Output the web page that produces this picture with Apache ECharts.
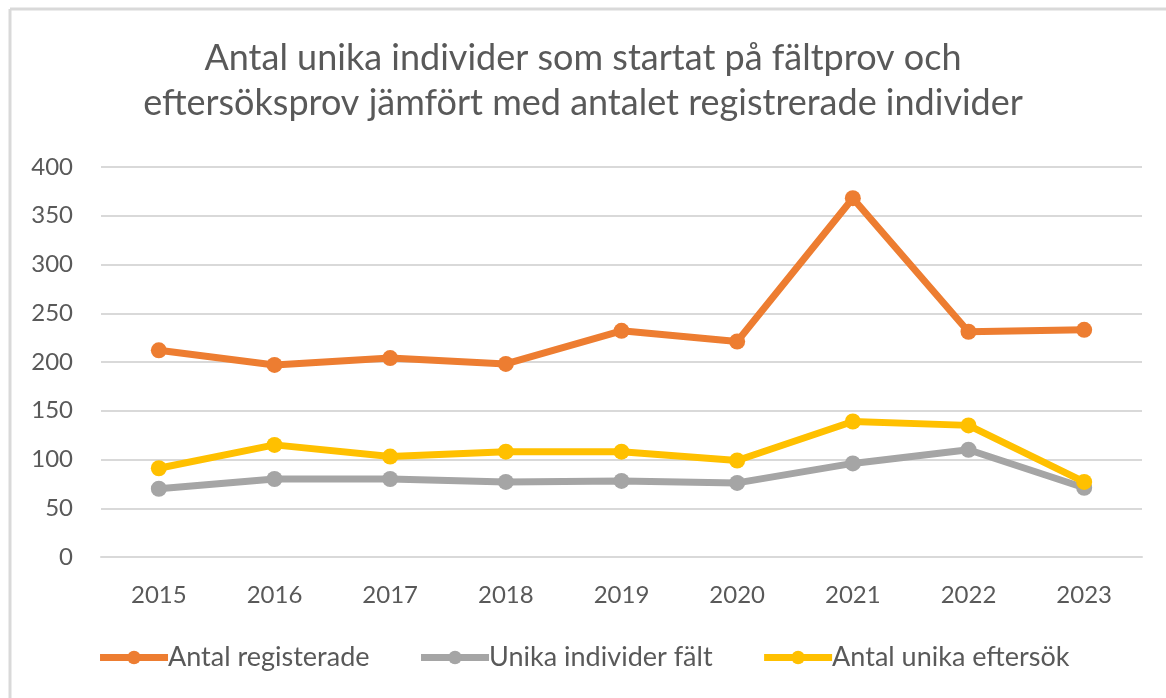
<!DOCTYPE html>
<html>
<head>
<meta charset="utf-8">
<script src="https://cdn.jsdelivr.net/npm/echarts@6/dist/echarts.min.js"></script>
<style>
  html, body { margin: 0; padding: 0; background: #fff; }
  #chart { width: 1166px; height: 698px; }
</style>
</head>
<body>
<div id="chart"></div>
<script>
// years on the x axis
const years = ['2015', '2016', '2017', '2018', '2019', '2020', '2021', '2022', '2023'];

// series values
const registrerade = [212, 197, 204, 198, 232, 221, 368, 231, 233];
const unikaFalt = [70, 80, 80, 77, 78, 76, 96, 110, 71];
const unikaEftersok = [91, 115, 103, 108, 108, 99, 139, 135, 77];

const seriesNames = ['Antal registerade', 'Unika individer fält', 'Antal unika eftersök'];
const colors = ['#ED7D31', '#A5A5A5', '#FFC000'];

const textColor = '#595959';
const font = 'Lato';

let chart = echarts.init(document.getElementById('chart'));

function lineSeries(name, data, color) {
  return {
    name: name,
    type: 'line',
    data: data,
    color: color,
    symbol: 'circle',
    symbolSize: 16,
    lineStyle: { width: 7, color: color },
    itemStyle: { color: color },
    z: 3
  };
}

let option = {
  animation: false,
  backgroundColor: '#fff',
  title: {
    text: 'Antal unika individer som startat på fältprov och\neftersöksprov jämfört med antalet registrerade individer',
    left: 'center',
    top: 31,
    textStyle: {
      fontFamily: font,
      fontSize: 36,
      fontWeight: 'normal',
      color: textColor,
      lineHeight: 45
    }
  },
  // chart area frame (left and top edges)
  graphic: [
    { type: 'line', shape: { x1: 10, y1: 9, x2: 1166, y2: 9 }, style: { stroke: '#D9D9D9', lineWidth: 3 } },
    { type: 'line', shape: { x1: 10, y1: 9, x2: 10, y2: 698 }, style: { stroke: '#D9D9D9', lineWidth: 3 } }
  ],
  grid: {
    left: 101,
    right: 24,
    top: 167,
    bottom: 141,
    containLabel: false
  },
  legend: {
    bottom: 22,
    left: 'center',
    itemGap: 48,
    itemWidth: 68,
    itemHeight: 17,
    data: seriesNames,
    lineStyle: { width: 7 },
    textStyle: { fontFamily: font, fontSize: 27, color: textColor, padding: [0, 0, 0, -5] }
  },
  xAxis: {
    type: 'category',
    data: years,
    boundaryGap: true,
    axisLine: { lineStyle: { color: '#D9D9D9', width: 2 } },
    axisTick: { show: false },
    axisLabel: { fontFamily: font, fontSize: 24, color: textColor, margin: 26 }
  },
  yAxis: {
    type: 'value',
    min: 0,
    max: 400,
    interval: 50,
    axisLine: { show: false },
    axisTick: { show: false },
    splitLine: { lineStyle: { color: '#D9D9D9', width: 2 } },
    axisLabel: { fontFamily: font, fontSize: 24, color: textColor, margin: 28 }
  },
  series: [
    lineSeries(seriesNames[0], registrerade, colors[0]),
    lineSeries(seriesNames[1], unikaFalt, colors[1]),
    lineSeries(seriesNames[2], unikaEftersok, colors[2])
  ]
};

chart.setOption(option);
</script>
</body>
</html>
